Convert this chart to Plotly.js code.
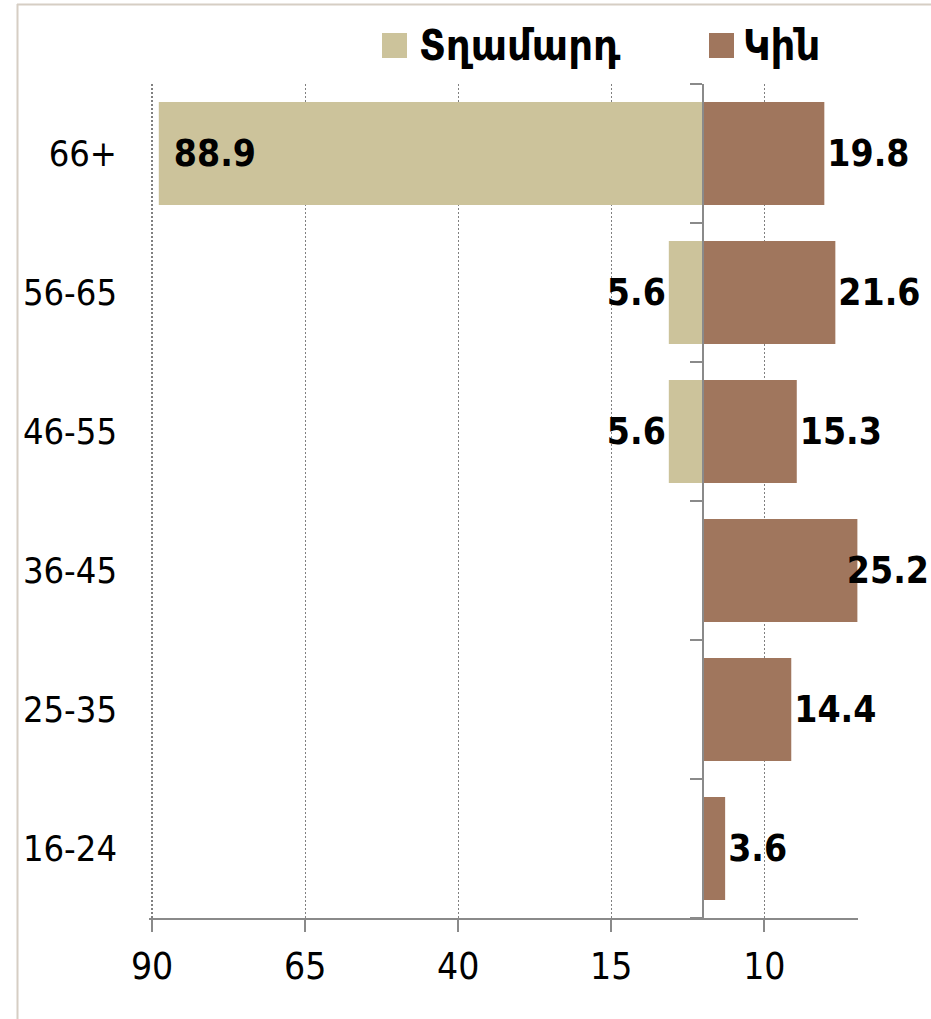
<!DOCTYPE html>
<html>
<head>
<meta charset="utf-8">
<script src="https://cdn.plot.ly/plotly-3.0.1.min.js"></script>
<style>html,body{margin:0;padding:0;background:#fff;}#chart{width:931px;height:1019px;}</style>
</head>
<body>
<div id="chart"></div>
<script>
// ---- data (bottom-to-top category order) ----
const categories = ['16-24', '25-35', '36-45', '46-55', '56-65', '66+'];
const menValues = [null, null, null, 5.6, 5.6, 88.9];
const womenValues = [3.6, 14.4, 25.2, 15.3, 21.6, 19.8];
const seriesNames = ['Տղամարդ', 'Կին'];
const xTickVals = [-90, -65, -40, -15, 10];
const xTickText = ['90', '65', '40', '15', '10'];
const xRange = [-90.5, 25.3];

// ---- style ----
const W = 931, H = 1019;
const M = {l: 149, r: 73, t: 84, b: 101};
const colMen = '#CCC39B', colWomen = '#A0765D';
const axisGray = '#8A8A8A';
const FONT = 'DejaVu Sans Condensed, DejaVu Sans, sans-serif';
const pw = W - M.l - M.r, ph = H - M.t - M.b;
const px = x => (x - M.l) / pw;
const py = y => 1 - (y - M.t) / ph;

const fmt = v => (v === null ? '' : v.toFixed(1));
const labelFont = {family: FONT, size: 37, color: '#000', weight: 'bold'};

const traces = [
  {
    type: 'bar', orientation: 'h', name: seriesNames[0],
    y: categories, x: menValues.map(v => v === null ? null : -v),
    text: menValues.map(fmt), textposition: 'auto', insidetextanchor: 'end',
    textfont: labelFont, insidetextfont: labelFont, outsidetextfont: labelFont,
    marker: {color: colMen}, cliponaxis: false, hoverinfo: 'skip',
    xaxis: 'x', yaxis: 'y', showlegend: false
  },
  {
    type: 'bar', orientation: 'h', name: seriesNames[1],
    y: categories, x: womenValues,
    text: womenValues.map(fmt), textposition: 'outside',
    textfont: labelFont, outsidetextfont: labelFont,
    marker: {color: colWomen}, cliponaxis: false, hoverinfo: 'skip',
    xaxis: 'x', yaxis: 'y2', showlegend: false
  }
];

const zeroPos = (0 - xRange[0]) / (xRange[1] - xRange[0]);

const layout = {
  width: W, height: H,
  margin: M,
  paper_bgcolor: '#fff', plot_bgcolor: '#fff',
  font: {family: FONT, size: 36, color: '#000'},
  bargap: 0.26,
  showlegend: false,
  xaxis: {
    range: xRange, tickvals: xTickVals, ticktext: xTickText,
    showgrid: true, gridcolor: '#808080', griddash: '2px,2px', gridwidth: 1.2,
    showline: true, linecolor: axisGray, linewidth: 2,
    ticks: 'outside', ticklen: 12, tickwidth: 2, tickcolor: axisGray,
    ticklabelstandoff: 3,
    zeroline: false, tickfont: {family: FONT, size: 37, color: '#000'},
    fixedrange: true
  },
  yaxis: {
    type: 'category', categoryorder: 'array', categoryarray: categories,
    showline: false, showgrid: false, zeroline: false, ticks: '',
    ticklabelstandoff: 31,
    tickfont: {family: FONT, size: 36, color: '#000'}, fixedrange: true
  },
  yaxis2: {
    type: 'category', categoryorder: 'array', categoryarray: categories,
    overlaying: 'y', matches: 'y', anchor: 'free', position: zeroPos, side: 'left',
    showline: true, linecolor: axisGray, linewidth: 2,
    ticks: 'outside', tickson: 'boundaries', ticklen: 12, tickwidth: 2, tickcolor: axisGray,
    showticklabels: false, showgrid: false, zeroline: false, fixedrange: true
  },
  shapes: [
    // frame
    {type: 'line', xref: 'paper', yref: 'paper', x0: px(17.5), x1: px(17.5), y0: py(4), y1: py(H + 5),
     line: {color: '#D6CEC4', width: 2}, layer: 'below'},
    {type: 'line', xref: 'paper', yref: 'paper', x0: px(17), x1: px(W + 5), y0: py(4.5), y1: py(4.5),
     line: {color: '#D6CEC4', width: 2}, layer: 'below'},
    // legend swatches
    {type: 'rect', xref: 'paper', yref: 'paper', x0: px(382), x1: px(407), y0: py(33), y1: py(58),
     fillcolor: colMen, line: {width: 0}},
    {type: 'rect', xref: 'paper', yref: 'paper', x0: px(709), x1: px(734), y0: py(33), y1: py(58),
     fillcolor: colWomen, line: {width: 0}}
  ],
  annotations: [
    {xref: 'paper', yref: 'paper', x: px(417), y: py(45), xanchor: 'left', yanchor: 'middle',
     text: '<b>' + seriesNames[0] + '</b>', showarrow: false,
     font: {family: FONT, size: 43, color: '#000'}},
    {xref: 'paper', yref: 'paper', x: px(741), y: py(45), xanchor: 'left', yanchor: 'middle',
     text: '<b>' + seriesNames[1] + '</b>', showarrow: false,
     font: {family: FONT, size: 43, color: '#000'}}
  ]
};

Plotly.newPlot('chart', traces, layout, {staticPlot: true, displayModeBar: false}).then(gd => {
  const shift = (el, dx) => {
    const t = el.getAttribute('transform') || '';
    el.setAttribute('transform', 'translate(' + dx + ',0) ' + t);
  };
  gd.querySelectorAll('.point').forEach(pt => {
    const path = pt.querySelector('path');
    const txt = pt.querySelector('.bartext');
    if (!path || !txt) return;
    const b = path.getBoundingClientRect();
    const r = txt.getBoundingClientRect();
    // inside-end labels: give them the wider padding of the original
    if (r.left >= b.left && r.right <= b.right) {
      const center = (b.left + b.right) / 2;
      const mid = (r.left + r.right) / 2;
      shift(txt, mid < center ? 12 : -12);
    }
  });
  // Like the original, pull any data label that would run past the page edge back inside it.
  const limit = W - 2;
  gd.querySelectorAll('.bartext').forEach(el => {
    const r = el.getBoundingClientRect();
    const over = r.right - limit;
    if (over > 0) shift(el, -over);
  });
});
</script>
</body>
</html>
